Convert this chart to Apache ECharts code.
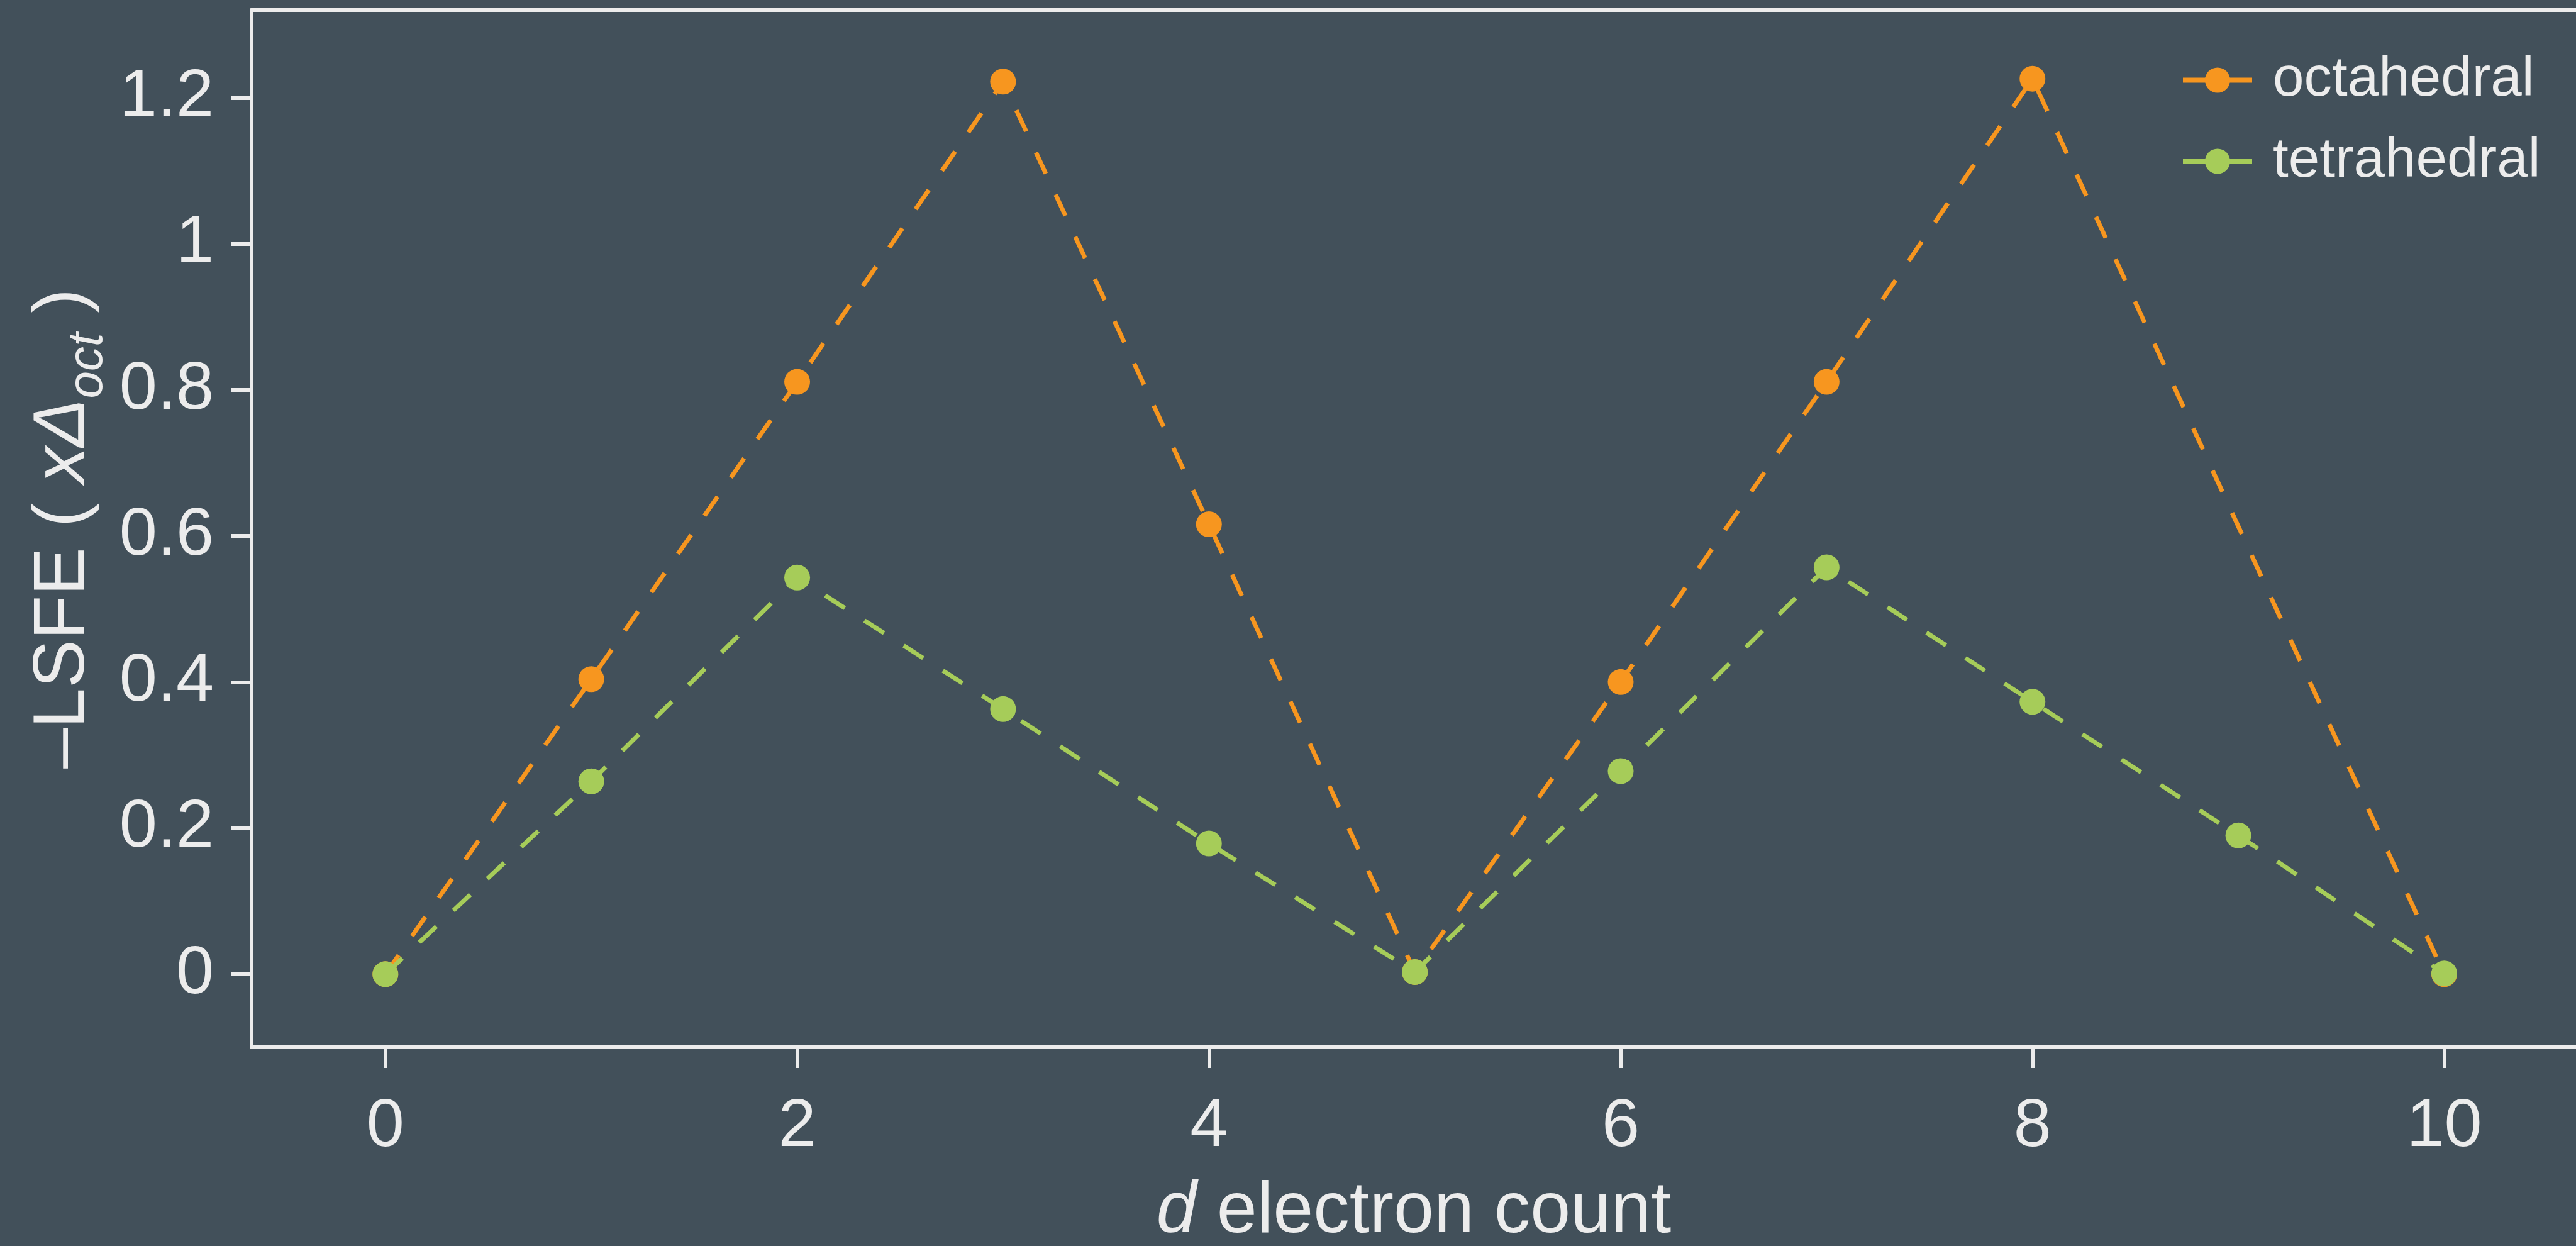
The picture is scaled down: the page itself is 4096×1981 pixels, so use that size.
<!DOCTYPE html>
<html>
<head>
<meta charset="utf-8">
<script src="https://cdn.jsdelivr.net/npm/echarts@6/dist/echarts.min.js"></script>
<style>
html,body{margin:0;padding:0;background:#42505a;}
#c{width:4096px;height:1981px;}
</style>
</head>
<body>
<div id="c"></div>
<script>
// d electron counts and LSFE values (units of Δoct)
const octX = [0, 1, 2, 3, 4, 5, 6, 7, 8, 10];
const octY = [0, 0.404, 0.811, 1.222, 0.616, 0.003, 0.400, 0.811, 1.226, 0];
const tetX = [0, 1, 2, 3, 4, 5, 6, 7, 8, 9, 10];
const tetY = [0, 0.264, 0.543, 0.363, 0.179, 0.003, 0.278, 0.557, 0.373, 0.190, 0.001];
const xTicks = [0, 2, 4, 6, 8, 10];
const yTicks = [0, 0.2, 0.4, 0.6, 0.8, 1, 1.2];
const seriesNames = ['octahedral', 'tetrahedral'];

const FONT = "'Liberation Sans', Arial, Helvetica, sans-serif";
const TXT = '#ececec';
const BG = '#42505a';
const COLORS = ['#f7961f', '#a6cc59'];

const pairs = (xs, ys) => xs.map((x, i) => [x, ys[i]]);

const chart = echarts.init(document.getElementById('c'), null, {renderer: 'canvas'});
chart.setOption({
  backgroundColor: BG,
  animation: false,
  textStyle: {fontFamily: FONT, color: TXT},
  grid: {left: 400, right: 0, top: 16, bottom: 316, containLabel: false, outerBoundsMode: 'none'},
  legend: {
    orient: 'vertical',
    left: 3462,
    top: 78,
    itemWidth: 110,
    itemHeight: 50,
    itemGap: 40,
    data: seriesNames,
    lineStyle: {type: 'solid', width: 8, cap: 'butt'},
    textStyle: {color: TXT, fontSize: 89, fontFamily: FONT, padding: [0, 0, 0, 28]},
    selectedMode: false
  },
  xAxis: [{
    type: 'value',
    min: -0.65,
    max: 10.64,
    position: 'bottom',
    axisLine: {show: true, onZero: false, lineStyle: {color: TXT, width: 6}},
    axisTick: {show: true, length: 33, customValues: xTicks, lineStyle: {color: TXT, width: 6}},
    axisLabel: {show: true, customValues: xTicks, color: TXT, fontSize: 108, fontFamily: FONT, margin: 73},
    splitLine: {show: false},
    name: '{i|d} electron count',
    nameLocation: 'middle',
    nameGap: 205,
    nameTextStyle: {
      color: TXT, fontSize: 115, fontFamily: FONT,
      rich: {i: {fontStyle: 'italic', fontSize: 115, color: TXT, fontFamily: FONT}}
    }
  }, {
    type: 'value',
    min: -0.65,
    max: 10.64,
    position: 'top',
    axisLine: {show: true, onZero: false, lineStyle: {color: TXT, width: 6}},
    axisTick: {show: false},
    axisLabel: {show: false},
    splitLine: {show: false}
  }],
  yAxis: {
    type: 'value',
    min: -0.1,
    max: 1.32,
    axisLine: {show: true, onZero: false, lineStyle: {color: TXT, width: 6}},
    axisTick: {show: true, length: 33, customValues: yTicks, lineStyle: {color: TXT, width: 6}},
    axisLabel: {show: true, customValues: yTicks, color: TXT, fontSize: 108, fontFamily: FONT, margin: 60},
    splitLine: {show: false},
    name: '{n|–LSFE ( }{i|xΔ}{s|oct}{n| )}',
    nameLocation: 'middle',
    nameRotate: 90,
    nameGap: 234,
    nameTextStyle: {
      color: TXT, fontFamily: FONT,
      rich: {
        n: {fontSize: 115, lineHeight: 115, verticalAlign: 'top', color: TXT, fontFamily: FONT},
        i: {fontSize: 115, lineHeight: 115, verticalAlign: 'top', fontStyle: 'italic', color: TXT, fontFamily: FONT},
        s: {fontSize: 78, lineHeight: 78, verticalAlign: 'top', fontStyle: 'italic', padding: [57, 0, 0, 0], color: TXT, fontFamily: FONT}
      }
    }
  },
  series: [{
    name: seriesNames[0],
    type: 'line',
    xAxisIndex: 0,
    data: pairs(octX, octY),
    symbol: 'circle',
    symbolSize: 41,
    showSymbol: true,
    itemStyle: {color: COLORS[0]},
    lineStyle: {color: COLORS[0], width: 7, type: [37, 37], cap: 'butt'},
    emphasis: {disabled: true},
    z: 2
  }, {
    name: seriesNames[1],
    type: 'line',
    xAxisIndex: 0,
    data: pairs(tetX, tetY),
    symbol: 'circle',
    symbolSize: 41,
    showSymbol: true,
    itemStyle: {color: COLORS[1]},
    lineStyle: {color: COLORS[1], width: 7, type: [37, 37], cap: 'butt'},
    emphasis: {disabled: true},
    z: 3
  }]
});
</script>
</body>
</html>
